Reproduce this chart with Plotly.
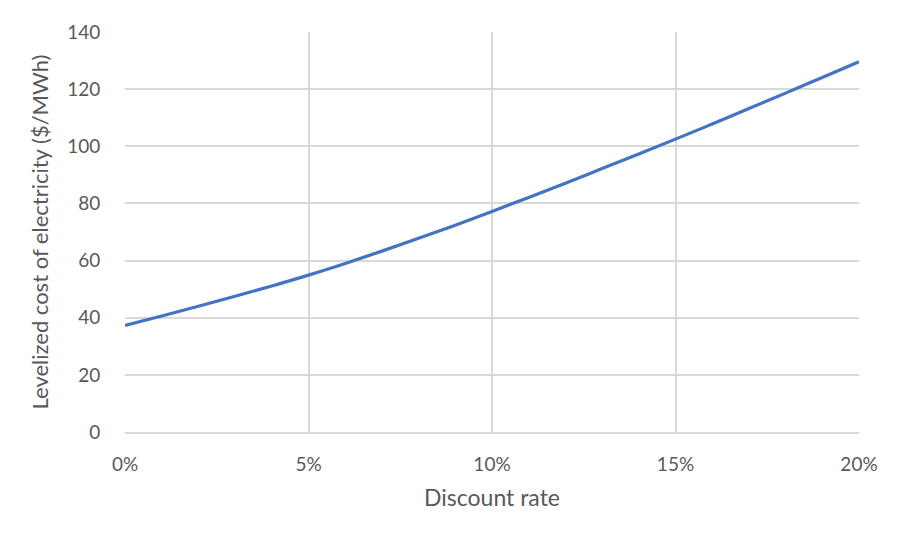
import plotly.graph_objects as go

discount_rate = [0.00, 0.01, 0.02, 0.03, 0.04, 0.05, 0.06, 0.07, 0.08, 0.09, 0.10,
                 0.11, 0.12, 0.13, 0.14, 0.15, 0.16, 0.17, 0.18, 0.19, 0.20]
lcoe = [37.3, 40.6, 44.0, 47.5, 51.1, 54.9, 59.0, 63.3, 67.8, 72.4, 77.2,
        82.1, 87.1, 92.2, 97.3, 102.5, 107.8, 113.2, 118.6, 124.1, 129.6]

x_ticks = [0.0, 0.05, 0.10, 0.15, 0.20]
y_ticks = [0, 20, 40, 60, 80, 100, 120, 140]

FONT = "Lato"
GREY = "#595959"
GRID = "#d9d9d9"

fig = go.Figure()
fig.add_trace(go.Scatter(x=discount_rate, y=lcoe, mode="lines",
                         line=dict(color="#4472C4", width=3.2, shape="spline"),
                         showlegend=False, hoverinfo="skip"))

fig.update_layout(
    width=908, height=544,
    margin=dict(l=117, r=57, t=19, b=120),
    paper_bgcolor="white", plot_bgcolor="white",
    font=dict(family=FONT, color=GREY, size=19),
    xaxis=dict(range=[0, 0.2], tickvals=x_ticks, tickformat=".0%",
               showgrid=True, gridcolor=GRID, gridwidth=1.5,
               zeroline=False, showline=True, linecolor=GRID, linewidth=1.5,
               ticks="outside", ticklen=14, tickcolor="rgba(0,0,0,0)",
               title=dict(text="Discount rate", font=dict(size=23, color=GREY), standoff=16),
               fixedrange=True),
    yaxis=dict(range=[0, 140], tickvals=y_ticks,
               showgrid=True, gridcolor=GRID, gridwidth=1.5,
               zeroline=False, showline=False,
               ticks="outside", ticklen=20, tickcolor="rgba(0,0,0,0)",
               title=dict(text="Levelized cost of electricity ($/MWh)", font=dict(size=22, color=GREY), standoff=12),
               fixedrange=True),
)

fig.write_html("out.html")
